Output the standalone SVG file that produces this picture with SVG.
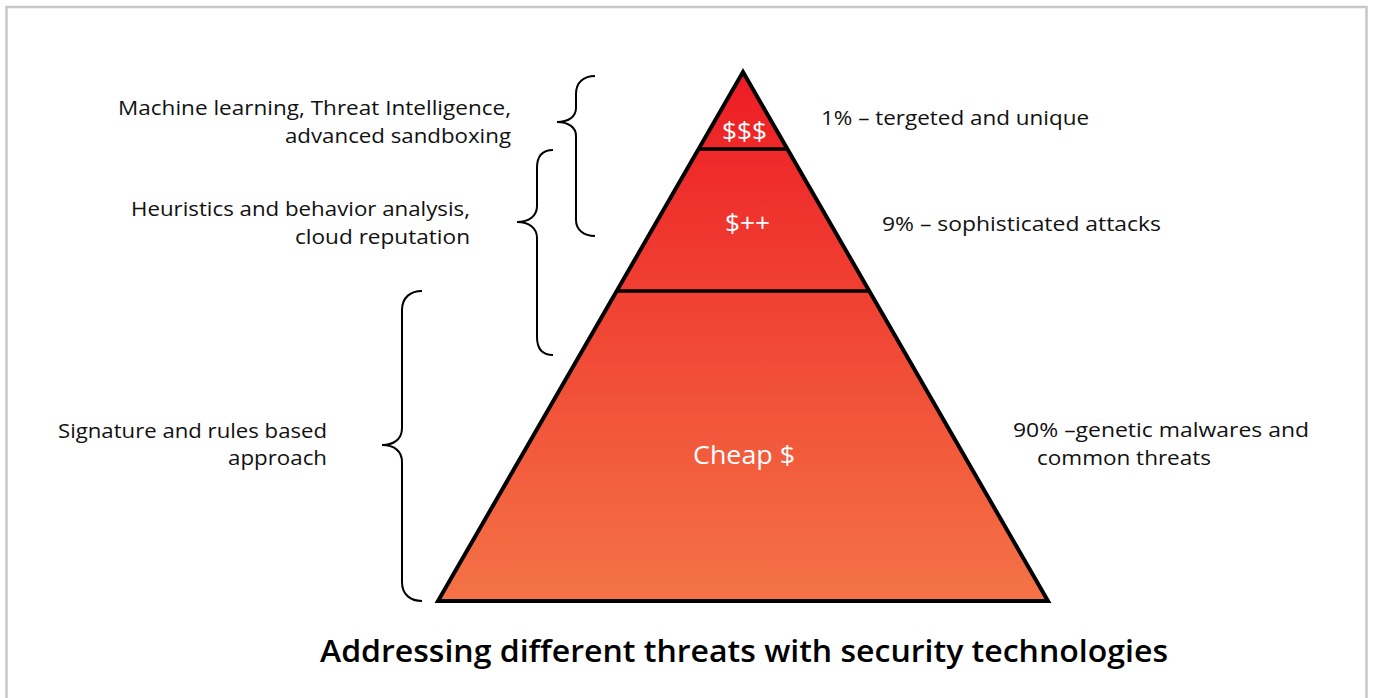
<svg xmlns="http://www.w3.org/2000/svg" width="1373" height="698" viewBox="0 0 1373 698">
<defs>
<linearGradient id="pg" x1="0" y1="72" x2="0" y2="601" gradientUnits="userSpaceOnUse">
<stop offset="0" stop-color="#ED1C24"/>
<stop offset="1" stop-color="#F47346"/>
</linearGradient>
<style>
.lbl{font-family:"Open Sans","Liberation Sans",sans-serif;font-size:20px;fill:#111}
.in{font-family:"Open Sans","Liberation Sans",sans-serif;font-size:26px;fill:#fff}
.br{fill:none;stroke:#000;stroke-width:2}
.title{font-family:"Open Sans","Liberation Sans",sans-serif;font-size:30px;font-weight:600;fill:#000}
</style>
</defs>
<rect width="1373" height="698" fill="#fff"/>
<rect x="6.5" y="7" width="1360" height="720" fill="none" stroke="#c8c8c8" stroke-width="2.5"/>
<g id="pyramid">
<polygon points="743,72 1048,601 438,601" fill="url(#pg)" stroke="#000" stroke-width="4" stroke-linejoin="miter"/>
<line x1="699" y1="149" x2="787" y2="149" stroke="#000" stroke-width="3.5"/>
<line x1="617" y1="291" x2="869" y2="291" stroke="#000" stroke-width="3.5"/>
</g>
<g id="tier-top"><text class="in" x="722" y="140" textLength="45" lengthAdjust="spacingAndGlyphs">$$$</text></g>
<g id="tier-mid"><text class="in" x="725" y="232" textLength="45" lengthAdjust="spacingAndGlyphs">$++</text></g>
<g id="tier-base"><text class="in" x="693" y="464" textLength="102" lengthAdjust="spacingAndGlyphs" style="font-size:25px">Cheap $</text></g>
<g id="connectors">
<path class="br" d="M595,76 C584,76 576,82 576,94 L576,108 C576,117 568,122 557,122 C568,122 576,127 576,136 L576,220 C576,230 584,236 595,236"/>
<path class="br" d="M553,150 C543,150 537,156 537,168 L537,206 C537,216 529,222 517,222 C529,222 537,228 537,238 L537,337 C537,349 543,355 553,355"/>
<path class="br" d="M422,291 C411,291 402,297 402,310 L402,428 C402,439 394,445 382,445 C394,445 402,451 402,462 L402,582 C402,595 411,601 422,601"/>
</g>
<g id="label-ml">
<text class="lbl" x="118" y="115" textLength="393" lengthAdjust="spacingAndGlyphs">Machine learning, Threat Intelligence,</text>
<text class="lbl" x="285" y="143" textLength="226" lengthAdjust="spacingAndGlyphs">advanced sandboxing</text>
</g>
<g id="label-heur">
<text class="lbl" x="131" y="216" textLength="339" lengthAdjust="spacingAndGlyphs">Heuristics and behavior analysis,</text>
<text class="lbl" x="295" y="244" textLength="175" lengthAdjust="spacingAndGlyphs">cloud reputation</text>
</g>
<g id="label-sig">
<text class="lbl" x="58" y="438" textLength="269" lengthAdjust="spacingAndGlyphs">Signature and rules based</text>
<text class="lbl" x="228" y="465" textLength="99" lengthAdjust="spacingAndGlyphs">approach</text>
</g>
<g id="label-1"><text class="lbl" x="821" y="125" textLength="268" lengthAdjust="spacingAndGlyphs">1% – tergeted and unique</text></g>
<g id="label-9"><text class="lbl" x="882" y="231" textLength="279" lengthAdjust="spacingAndGlyphs">9% – sophisticated attacks</text></g>
<g id="label-90">
<text class="lbl" x="1013" y="437" textLength="296" lengthAdjust="spacingAndGlyphs">90% –genetic malwares and</text>
<text class="lbl" x="1037" y="465" textLength="174" lengthAdjust="spacingAndGlyphs">common threats</text>
</g>
<g id="title"><text class="title" x="320" y="662" textLength="848" lengthAdjust="spacingAndGlyphs">Addressing different threats with security technologies</text></g>
</svg>
